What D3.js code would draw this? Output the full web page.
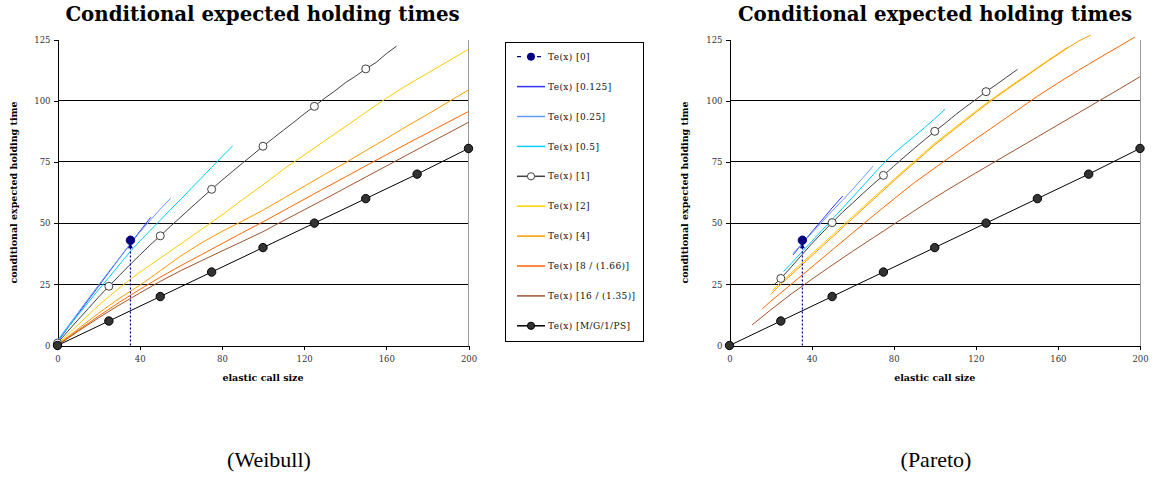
<!DOCTYPE html>
<html>
<head>
<meta charset="utf-8">
<script src="https://cdn.jsdelivr.net/npm/d3@7"></script>
<style>
body { margin: 0; background: #fff; }
svg text { font-family: "DejaVu Serif", serif; }
</style>
</head>
<body>
<svg id="chart" width="1154" height="477"></svg>
<script>
'use strict';

/************************ data ************************/
var xTicks = [0, 40, 80, 120, 160, 200];
var yTicks = [0, 25, 50, 75, 100, 125];
var legendLabels = ['Te(x) [0]', 'Te(x) [0.125]', 'Te(x) [0.25]', 'Te(x) [0.5]', 'Te(x) [1]',
    'Te(x) [2]', 'Te(x) [4]', 'Te(x) [8 / (1.66)]', 'Te(x) [16 / (1.35)]', 'Te(x) [M/G/1/PS]'];
var panelTitles = ['Conditional expected holding times', 'Conditional expected holding times'];
var captions = ['(Weibull)', '(Pareto)'];
var xTitle = 'elastic call size';
var yTitle = 'conditional expected holding time';

// same in both panels
var te0 = [[35.5, 43]];
var mg1ps = [[0, 0], [25, 10], [50, 20], [75, 30], [100, 40], [125, 50], [150, 60], [175, 70], [200, 80.5]];

// Weibull panel
var wbTe0125 = [[0, 1.5], [5, 7.2], [10, 12.9], [15, 18.6], [20, 24.2], [25, 29.9], [30, 35.5], [35, 41], [40, 46.6], [45.4, 52.4]];
var wbTe025 = [[0, 2], [5, 7.8], [10, 13.4], [15, 19.1], [20, 24.7], [25, 30.2], [30, 35.6], [35, 41], [40, 46.2], [45, 51], [50, 55.7], [55, 60.1]];
var wbTe05 = [[0, 2], [5, 7.3], [10, 12.5], [15, 17.6], [20, 22.8], [25, 27.8], [30, 32.9], [35, 38], [40, 42.6], [45, 46.9],
    [50, 51.2], [55, 55.5], [60, 59.8], [65, 64.1], [70, 68.4], [75, 72.8], [80, 77.1], [85.3, 81.6]];
var wbTe1 = [[0, 1], [5, 5.8], [10, 10.5], [15, 15.1], [20, 19.8], [25, 24.2], [30, 28.5], [35, 32.8], [40, 36.9], [45, 41],
    [50, 44.8], [55, 48.7], [60, 52.5], [65, 56.3], [70, 60.1], [75, 63.8], [80, 67.5], [85, 71], [90, 74.5], [95, 77.9],
    [100, 81.4], [105, 84.7], [110, 88], [115, 91.2], [120, 94.6], [125, 97.7], [130, 101], [135, 104], [140, 107.3],
    [145, 110], [150, 113], [155, 115.6], [160, 119.2], [165, 122.3]];
var wbTe2 = [[0, 0.5], [10, 8.5], [20, 16.4], [30, 23.5], [40, 29.9], [50, 35.7], [60, 41.5], [70, 47.4], [80, 53.3], [90, 59.6],
    [100, 65.6], [110, 72], [120, 77.8], [130, 83.6], [140, 89.4], [150, 95.2], [160, 101], [170, 106.3], [180, 111.2], [190, 116.1], [200, 121]];
var wbTe4 = [[0, 0.3], [10, 6.8], [20, 13.2], [30, 19.2], [40, 24.6], [50, 30.5], [60, 36.6], [70, 41.9], [80, 46.6], [90, 50.8],
    [100, 55.3], [110, 60.1], [120, 65], [130, 69.9], [140, 74.6], [150, 79.6], [160, 84.5], [170, 89.6], [180, 94.4], [190, 99.4], [200, 104.4]];
var wbTe8 = [[0, 0.2], [10, 6.2], [20, 12], [30, 17.6], [40, 22.9], [50, 27.9], [60, 32.6], [70, 37.1], [80, 41.6], [90, 46.1],
    [100, 50.5], [110, 55.1], [120, 59.7], [130, 64.3], [140, 68.8], [150, 73.4], [160, 77.9], [170, 82.4], [180, 86.8], [190, 91.2], [200, 95.6]];
var wbTe16 = [[0, 0], [10, 5.8], [20, 11.3], [30, 16.5], [40, 21.4], [50, 26.2], [60, 30.6], [70, 34.6], [80, 38.6], [90, 42.5],
    [100, 46.5], [110, 51], [120, 55.4], [130, 59.8], [140, 64.3], [150, 68.8], [160, 73.3], [170, 77.8], [180, 82.3], [190, 86.7], [200, 91.2]];

// Pareto panel
var paTe0125 = [[31, 37], [35, 41.2], [40, 46.3], [45, 51.2], [50, 56.2], [55.2, 61.1]];
var paTe025 = [[31, 37.6], [35, 41.3], [40, 45.9], [45, 50.4], [50, 54.9], [55, 59.3], [60, 63.8], [65, 68.5], [70, 73.3]];
var paTe05 = [[26.3, 30.2], [30, 33.5], [35, 38], [40, 42.5], [45, 47], [50, 51.5], [55, 56], [60, 60.6], [65, 65.2], [70, 69.8],
    [75, 74.4], [80, 78.4], [85, 82], [90, 85.4], [95, 89], [100, 92.7], [105, 96.5]];
var paTe1 = [[22, 25], [25, 27.4], [30, 32], [35, 36.8], [40, 41.5], [45, 45.9], [50, 50.2], [55, 54.4], [60, 58.2], [65, 62.1],
    [70, 65.9], [75, 69.5], [80, 73.2], [85, 76.9], [90, 80.5], [95, 84], [100, 87.5], [105, 90.7], [110, 94.2], [115, 97.4],
    [120, 100.5], [125, 103.7], [130, 106.6], [135, 109.6], [140.3, 112.8]];
var paTe2 = [[21, 22.5], [25, 25.8], [30, 29.6], [35, 33.5], [40, 37.4], [45, 41.2], [50, 45], [55, 48.9], [60, 52.7], [65, 56.5],
    [70, 60.3], [75, 64.1], [80, 67.8], [85, 71.6], [90, 75.2], [95, 78.9], [100, 82.6], [105, 85.9], [110, 89.2], [115, 92.5],
    [120, 95.7], [125, 98.9], [130, 101.9], [135, 104.9], [140, 107.8], [145, 110.6], [150, 113.5], [155, 116.4], [160, 119.2], [165, 122]];
var paTe4 = [[20, 20.8], [25, 25], [30, 28.8], [35, 32.7], [40, 36.6], [45, 40.4], [50, 44.2], [55, 48.1], [60, 51.9], [65, 55.8],
    [70, 59.6], [75, 63.4], [80, 67.2], [85, 71], [90, 74.6], [95, 78.3], [100, 82], [105, 85.3], [110, 88.6], [115, 91.9],
    [120, 95.2], [125, 98.4], [130, 101.5], [135, 104.5], [140, 107.4], [145, 110.3], [150, 113.2], [155, 116.1], [160, 118.9],
    [165, 121.7], [170, 124.3], [176, 126.8]];
var paTe8 = [[16, 15], [20, 18], [30, 25], [40, 32], [50, 39], [60, 46], [70, 53], [80, 59.8], [90, 66.5], [100, 72.5],
    [110, 78.5], [120, 84.4], [130, 90.2], [140, 96], [150, 101.8], [160, 107.2], [170, 112.4], [180, 117.4], [190, 122.3], [197.5, 126]];
var paTe16 = [[11, 8.4], [20, 14.5], [30, 21], [40, 27], [50, 32.8], [60, 38.5], [70, 44], [80, 49.5], [90, 55], [100, 60.4],
    [110, 65.5], [120, 70.5], [130, 75.4], [140, 80.3], [150, 85.2], [160, 90.1], [170, 95], [180, 99.9], [190, 104.8], [200, 109.8]];

/************************ styles ************************/
var seriesColors = ['#000080', '#3333ff', '#6699ff', '#00ccff', '#404040', '#ffcc00', '#ff9900', '#ff6600', '#a0522d', '#000000'];

var panels = [
    { left: 57.5, right: 468.5, titleX: 262.5, yLabelX: 13.5, captionX: 269, caption: captions[0], title: panelTitles[0],
      series: [null, wbTe0125, wbTe025, wbTe05, wbTe1, wbTe2, wbTe4, wbTe8, wbTe16, mg1ps], legend: true },
    { left: 729.5, right: 1140, titleX: 935, yLabelX: 685, captionX: 936, caption: captions[1], title: panelTitles[1],
      series: [null, paTe0125, paTe025, paTe05, paTe1, paTe2, paTe4, paTe8, paTe16, mg1ps], legend: false }
];

var svg = d3.select('#chart');
var plotTop = 39.5, plotBottom = 345.5;

panels.forEach(drawPanel);

function drawPanel(p) {
    var g = svg.append('g');
    var x = d3.scaleLinear().domain([0, 200]).range([p.left, p.right]);
    var y = d3.scaleLinear().domain([0, 125]).range([plotBottom, plotTop]);

    // title
    g.append('text')
        .attr('x', p.titleX).attr('y', 20.5)
        .attr('text-anchor', 'middle')
        .style('font-size', '19.8px').style('font-weight', 'bold')
        .text(p.title);

    // grid lines (no line at 125)
    g.selectAll('.grid')
        .data(yTicks.filter(function (d) { return d > 0 && d < 125; }))
        .enter().append('line')
        .attr('x1', p.left).attr('x2', p.right)
        .attr('y1', function (d) { return y(d); }).attr('y2', function (d) { return y(d); })
        .attr('stroke', '#000').attr('stroke-width', 1)
        .attr('shape-rendering', 'crispEdges');

    // right border of the plot area
    g.append('line')
        .attr('x1', p.right).attr('x2', p.right).attr('y1', plotTop).attr('y2', plotBottom)
        .attr('stroke', '#999').attr('shape-rendering', 'crispEdges');

    // axes
    var xAxis = d3.axisBottom(x).tickValues(xTicks).tickSize(4).tickSizeOuter(0);
    var yAxis = d3.axisLeft(y).tickValues(yTicks).tickSize(4).tickSizeOuter(0);
    var gx = g.append('g').attr('transform', 'translate(0,' + plotBottom + ')').call(xAxis);
    var gy = g.append('g').attr('transform', 'translate(' + p.left + ',0)').call(yAxis);
    [gx, gy].forEach(function (a) {
        a.select('.domain').attr('stroke', '#000').attr('shape-rendering', 'crispEdges');
        a.selectAll('.tick line').attr('stroke', '#000').attr('shape-rendering', 'crispEdges');
        a.selectAll('.tick text')
            .style('font-family', '"DejaVu Serif", serif')
            .style('font-size', '8.5px')
            .attr('fill', '#333');
    });
    gx.selectAll('.tick text').attr('dy', '1.1em');
    gy.selectAll('.tick text').attr('x', -7);

    // axis titles
    g.append('text')
        .attr('x', (p.left + p.right) / 2).attr('y', 381)
        .attr('text-anchor', 'middle')
        .style('font-size', '9.5px').style('font-weight', 'bold')
        .text(xTitle);
    g.append('text')
        .attr('transform', 'translate(' + p.yLabelX + ',' + ((plotTop + plotBottom) / 2) + ') rotate(-90)')
        .attr('text-anchor', 'middle').attr('dy', '0.35em')
        .style('font-size', '9.5px').style('font-weight', 'bold')
        .text(yTitle);

    var line = d3.line()
        .x(function (d) { return x(d[0]); })
        .y(function (d) { return y(d[1]); });

    // curves
    p.series.forEach(function (s, i) {
        if (!s) { return; }
        g.append('path')
            .datum(s)
            .attr('d', line)
            .attr('fill', 'none')
            .attr('stroke', seriesColors[i])
            .attr('stroke-width', 1);
    });

    // Te(x)[1] markers, every 25
    g.selectAll('.m1')
        .data(p.series[4].filter(function (d) { return d[0] % 25 === 0; }))
        .enter().append('circle')
        .attr('cx', function (d) { return x(d[0]); })
        .attr('cy', function (d) { return y(d[1]); })
        .attr('r', 4)
        .attr('fill', '#fff').attr('stroke', '#404040');

    // M/G/1/PS markers
    g.selectAll('.mps')
        .data(p.series[9])
        .enter().append('circle')
        .attr('cx', function (d) { return x(d[0]); })
        .attr('cy', function (d) { return y(d[1]); })
        .attr('r', 4.2)
        .attr('fill', '#333').attr('stroke', '#000');

    // Te(x)[0]: dotted drop line with small arrow, then point
    te0.forEach(function (d) {
        var cx = x(d[0]), cy = y(d[1]);
        g.append('line')
            .attr('x1', cx).attr('x2', cx).attr('y1', y(0)).attr('y2', cy + 6)
            .attr('stroke', seriesColors[0]).attr('stroke-width', 1.2)
            .attr('stroke-dasharray', '2,2');
        g.append('path')
            .attr('d', 'M' + cx + ',' + (cy + 3) + 'l-2.5,5h5z')
            .attr('fill', seriesColors[0]);
    });
    g.selectAll('.m0')
        .data(te0)
        .enter().append('circle')
        .attr('cx', function (d) { return x(d[0]); })
        .attr('cy', function (d) { return y(d[1]); })
        .attr('r', 4.2)
        .attr('fill', seriesColors[0]).attr('stroke', seriesColors[0]);

    // caption under the panel
    svg.append('text')
        .attr('x', p.captionX).attr('y', 467)
        .attr('text-anchor', 'middle')
        .style('font-family', '"Liberation Serif", serif')
        .style('font-size', '22px')
        .text(p.caption);

    if (p.legend) { drawLegend(); }
}

function drawLegend() {
    var lg = svg.append('g');
    lg.append('rect')
        .attr('x', 505.5).attr('y', 42.5).attr('width', 138).attr('height', 299)
        .attr('fill', '#fff').attr('stroke', '#000');

    var item = lg.selectAll('.item')
        .data(legendLabels)
        .enter().append('g')
        .attr('transform', function (d, i) { return 'translate(0,' + (56.7 + i * 29.9) + ')'; });

    item.append('line')
        .attr('x1', 517).attr('x2', 545)
        .attr('stroke', function (d, i) { return seriesColors[i]; })
        .attr('stroke-width', function (d, i) { return i === 0 ? 1.2 : 1.5; })
        .attr('stroke-dasharray', function (d, i) { return i === 0 ? '4,6' : null; });

    item.filter(function (d, i) { return i === 0 || i === 4 || i === 9; })
        .append('circle')
        .attr('cx', 531).attr('r', 3.6)
        .attr('fill', function (d, i) { return ['#000080', '#fff', '#333'][i]; })
        .attr('stroke', function (d, i) { return ['#000080', '#404040', '#000'][i]; });

    item.append('text')
        .attr('x', 548).attr('dy', '0.35em')
        .style('font-size', '9px')
        .style('letter-spacing', '0.4px')
        .attr('fill', '#111')
        .text(function (d) { return d; });
}
</script>
</body>
</html>
